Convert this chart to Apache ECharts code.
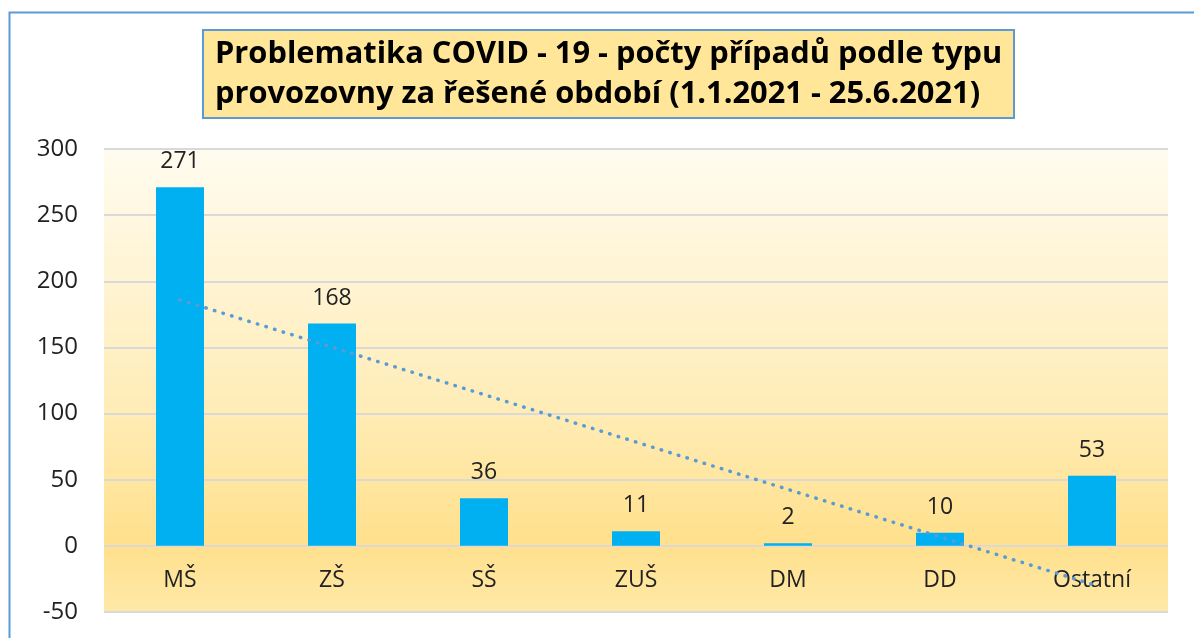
<!DOCTYPE html>
<html><head><meta charset="utf-8">
<script src="https://cdn.jsdelivr.net/npm/echarts@6/dist/echarts.min.js"></script>
<style>html,body{margin:0;padding:0;background:#fff}#c{width:1194px;height:638px}</style>
</head><body><div id="c"></div>
<script>
const titleLines = ['Problematika COVID - 19 - počty případů podle typu', 'provozovny za řešené období (1.1.2021 - 25.6.2021)'];
const categories = ['MŠ', 'ZŠ', 'SŠ', 'ZUŠ', 'DM', 'DD', 'Ostatní'];
const values = [271, 168, 36, 11, 2, 10, 53];
const trendValues = [186, null, null, null, null, null, -29];
const yTicks = { min: -50, max: 300, interval: 50 };

const chart = echarts.init(document.getElementById('c'));
const font = '"Open Sans", "Noto Sans", sans-serif';
chart.setOption({
  animation: false,
  graphic: [{ type: 'rect', shape: { x: 9.5, y: 12.5, width: 1400, height: 800 }, style: { fill: 'none', stroke: '#5B9BD5', lineWidth: 2 }, z: -10 }],
  title: {
    text: titleLines.join('\n'),
    left: 203, top: 30,
    backgroundColor: '#FFE699', borderColor: '#5B9BD5', borderWidth: 2,
    padding: [4, 12, 4, 12],
    textStyle: { fontFamily: font, fontWeight: 'bold', fontSize: 30.8, lineHeight: 40, color: '#000' }
  },
  grid: {
    left: 104, right: 26, top: 149, bottom: 26, show: true, borderWidth: 0,
    outerBoundsMode: 'none', containLabel: false,
    backgroundColor: { type: 'linear', x: 0, y: 0, x2: 0, y2: 1, colorStops: [
      { offset: 0, color: '#FFFBEF' }, { offset: 0.55, color: '#FFEDB8' }, { offset: 0.85, color: '#FFE08C' }, { offset: 1, color: '#FFE9A8' }] }
  },
  xAxis: {
    type: 'category', data: categories, position: 'bottom', offset: -66,
    axisLine: { show: false, onZero: false }, axisTick: { show: false },
    axisLabel: { fontFamily: font, fontSize: 23, color: '#222', margin: 23 }
  },
  yAxis: {
    type: 'value', min: yTicks.min, max: yTicks.max, interval: yTicks.interval,
    axisLine: { show: false }, axisTick: { show: false },
    splitLine: { lineStyle: { color: '#D9D9D9', width: 2 } },
    axisLabel: { fontFamily: font, fontSize: 24, color: '#222', margin: 26 }
  },
  series: [{
    type: 'bar', data: values, barWidth: 48,
    itemStyle: { color: '#00B0F0' },
    label: { show: true, position: 'top', distance: 14, fontFamily: font, fontSize: 23, color: '#222' }
  }, {
    type: 'line', data: trendValues, connectNulls: true, symbol: 'none',
    lineStyle: { color: '#5B9BD5', width: 3.5, type: [0.5, 8.5], cap: 'round' }, z: 5
  }]
});
</script></body></html>
